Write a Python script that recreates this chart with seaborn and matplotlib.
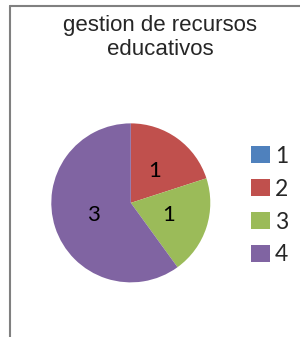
import matplotlib
matplotlib.use("Agg")
import matplotlib.pyplot as plt
import seaborn as sns

# data
categories = ["1", "2", "3", "4"]
counts = [0, 1, 1, 3]
title = "gestion de recursos\neducativos"
colors = ["#4F81BD", "#C0504D", "#9BBB59", "#8064A2"]

sns.set_theme(style="white")
plt.rcParams["font.family"] = ["Liberation Sans", "DejaVu Sans"]

fig = plt.figure(figsize=(3.0, 3.37), dpi=100)

# chart area border (only left and top visible in the crop)
fig.add_artist(plt.Line2D([0.034, 0.034], [0, 0.982], color="#808080", lw=1.5))
fig.add_artist(plt.Line2D([0.034, 1.0], [0.982, 0.982], color="#808080", lw=1.5))

fig.text(0.533, 0.888, title, ha="center", va="center", fontsize=16, linespacing=1.17)

ax = fig.add_axes([0.171, 0.162, 0.53, 0.472])


def fmt(p):
    v = p * sum(counts) / 100
    return "%d" % round(v) if v > 0.01 else ""


wedges, _, autotexts = ax.pie(counts, colors=colors, startangle=90, counterclock=False,
                              autopct=fmt, pctdistance=0.5, wedgeprops={"linewidth": 0},
                              textprops={"fontsize": 16, "family": ["Lato", "DejaVu Sans"], "color": "black"})
ax.set_xlim(-1, 1)
ax.set_ylim(-1, 1)

fig.legend(wedges, categories, loc="center left", bbox_to_anchor=(0.767, 0.39),
           frameon=False, prop={"family": ["Lato", "DejaVu Sans"], "size": 16.5},
           handlelength=0.85, handleheight=0.75, handletextpad=0.2, labelspacing=0.52)

fig.savefig("out.png", dpi=100)
